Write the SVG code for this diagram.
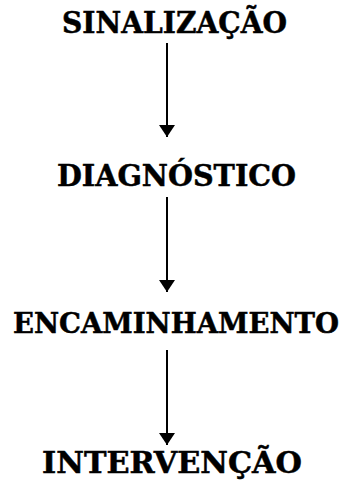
<svg xmlns="http://www.w3.org/2000/svg" width="345" height="491" viewBox="0 0 345 491">
<style>
.t{font-family:"DejaVu Serif","Liberation Serif",serif;font-weight:bold;font-size:29px;fill:#000;stroke:#000;stroke-width:0.5}
.c{stroke:#000;stroke-width:2;fill:none}
</style>
<defs>
<marker id="ah" markerUnits="userSpaceOnUse" markerWidth="12" markerHeight="16" refX="12" refY="8" orient="auto" viewBox="0 0 12 16">
<path d="M0,0 L12,8 L0,16 Z" fill="#000"/>
</marker>
</defs>
<rect width="345" height="491" fill="#fff"/>
<g id="n1"><text class="t" x="62" y="33" textLength="225" lengthAdjust="spacingAndGlyphs">SINALIZAÇÃO</text></g>
<g id="n2"><text class="t" x="57" y="186" textLength="239" lengthAdjust="spacingAndGlyphs">DIAGNÓSTICO</text></g>
<g id="n3"><text class="t" x="13" y="333" style="font-size:27.5px" textLength="326" lengthAdjust="spacingAndGlyphs">ENCAMINHAMENTO</text></g>
<g id="n4"><text class="t" x="42" y="473" textLength="260" lengthAdjust="spacingAndGlyphs">INTERVENÇÃO</text></g>
<g id="connectors">
<line class="c" x1="167" y1="43" x2="167" y2="137" marker-end="url(#ah)"/>
<line class="c" x1="167" y1="197" x2="167" y2="292" marker-end="url(#ah)"/>
<line class="c" x1="167" y1="350" x2="167" y2="445" marker-end="url(#ah)"/>
</g>
</svg>
